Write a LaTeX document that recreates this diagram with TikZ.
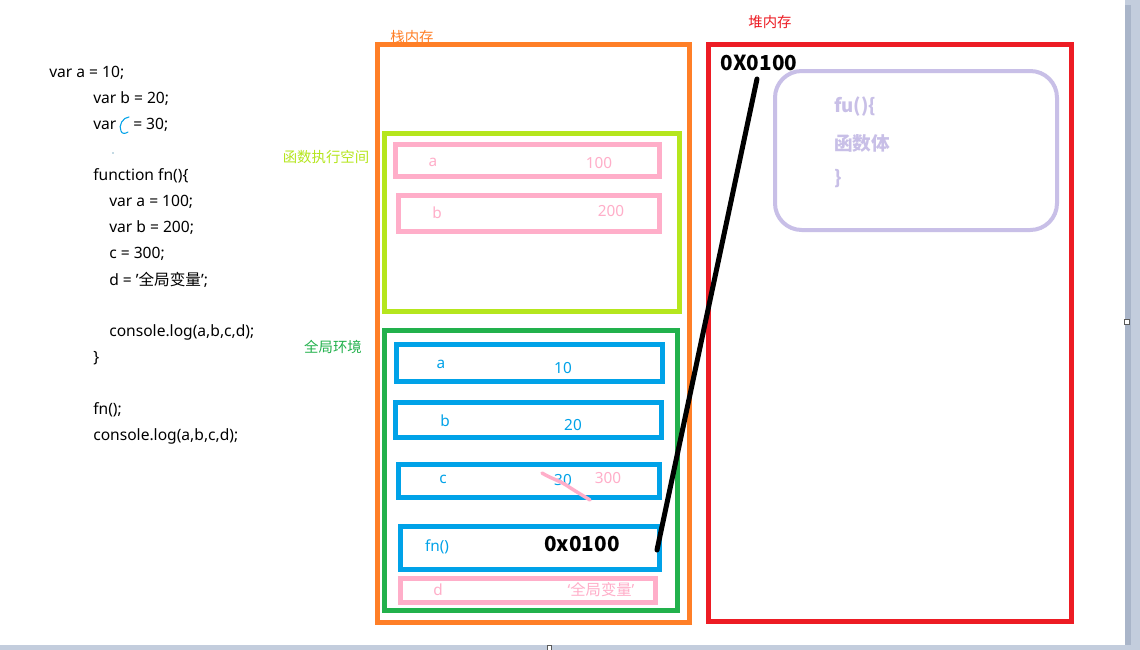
\documentclass[tikz,border=0pt]{standalone}
\usepackage{fontspec}
\setmainfont[Ligatures=NoCommon]{Noto Sans}
\newfontfamily\cjk{Noto Sans CJK SC}
\usetikzlibrary{fit}
\definecolor{cOrange}{HTML}{FF7F27}
\definecolor{cLime}{HTML}{B5E61D}
\definecolor{cPink}{HTML}{FFAEC9}
\definecolor{cGreen}{HTML}{22B14C}
\definecolor{cBlue}{HTML}{00A2E8}
\definecolor{cRed}{HTML}{ED1C24}
\definecolor{cLav}{HTML}{C8BFE7}
\definecolor{cBar}{HTML}{C3CDDD}
\definecolor{cBarD}{HTML}{A9B5C9}
\newcommand{\sq}{\char"0027\relax}
\tikzset{
  frame/.style={draw, line width=3.75pt, inner sep=0pt, fill=none},
  code/.style={anchor=west, inner sep=0pt, font=\fontsize{11.7}{13}\selectfont, text=black},
  lbl/.style={inner sep=0pt, font=\fontsize{11.5}{13}\selectfont},
  captxt/.style={inner sep=0pt, font=\fontsize{10.8}{12}\selectfont\cjk},
  big/.style={inner sep=0pt, font=\fontsize{15.5}{18}\selectfont\cjk\bfseries, text=black},
  lav/.style={inner sep=0pt, font=\fontsize{14}{17}\selectfont\cjk\bfseries, text=cLav, anchor=west},
}
\begin{document}
\begin{tikzpicture}[x=0.75pt,y=-0.75pt]
\useasboundingbox (0,0) rectangle (1140,650);
\fill[white] (0,0) rectangle (1140,650);
% window chrome
\fill[cBar] (1125,0) rectangle (1140,650);
\fill[cBarD] (1125,5) rectangle (1131,650);
\fill[cBar] (0,645) rectangle (1140,650);
\draw[gray!70!black, fill=white, line width=0.4pt] (1124,319) rectangle (1129,324);
\draw[gray!70!black, fill=white, line width=0.4pt] (547,645) rectangle (551,650);

% code
\node[code] (l1) at (49,73) {var a = 10;};
\node[code] (l2) at (93,99) {var b = 20;};
\node[code] (l3a) at (93,125) {var};
\node[code] (l3b) at (133,125) {= 30;};
\draw[cBlue, line width=0.8pt, line cap=round] (129,117) .. controls (123,117) and (118,126) .. (121,131) .. controls (122,134) and (125,134) .. (128,132);
\fill[cBlue!60!black] (113,153) circle (0.6);
\node[code] (l4) at (93,176) {function fn()\{};
\node[code] (l5) at (109,202) {var a = 100;};
\node[code] (l6) at (109,228) {var b = 200;};
\node[code] (l7) at (109,254) {c = 300;};
\node[code] (l8) at (109,280) {d = \sq{\cjk 全局变量}\sq;};
\node[code] (l9) at (109,332) {console.log(a,b,c,d);};
\node[code] (l10) at (93,358) {\}};
\node[code] (l11) at (93,410) {fn();};
\node[code] (l12) at (93,436) {console.log(a,b,c,d);};

% stack memory
\node[captxt, text=cOrange] (stkl) at (412,37) {栈内存};
\node[frame, draw=cOrange, fit={(377,44)(689,622)}] (stack) {};

% function execution space
\node[captxt, text=cLime] (fexl) at (326,157) {函数执行空间};
\node[frame, draw=cLime, fit={(384,133)(679,311)}] (fex) {};
\node[frame, draw=cPink, fit={(395,144)(659,176)}] (pa) {};
\node[lbl, text=cPink] (pan) at (433,162) {a};
\node[lbl, text=cPink] (pav) at (599,163) {100};
\node[frame, draw=cPink, fit={(398,195)(659,231)}] (pb) {};
\node[lbl, text=cPink] (pbn) at (437,213) {b};
\node[lbl, text=cPink] (pbv) at (611,211) {200};

% global environment
\node[captxt, text=cGreen] (gll) at (333,347) {全局环境};
\node[frame, draw=cGreen, fit={(384,330)(677,610)}] (glob) {};
\node[frame, draw=cBlue, fit={(396,344)(662,381)}] (ga) {};
\node[lbl, text=cBlue] (gan) at (441,364) {a};
\node[lbl, text=cBlue] (gav) at (563,368) {10};
\node[frame, draw=cBlue, fit={(395,402)(661,437)}] (gb) {};
\node[lbl, text=cBlue] (gbn) at (445,421) {b};
\node[lbl, text=cBlue] (gbv) at (573,425) {20};
\node[frame, draw=cBlue, fit={(398,464)(659,497)}] (gc) {};
\node[lbl, text=cBlue] (gcn) at (443,479) {c};
\node[lbl, text=cBlue] (gcv) at (563,480) {30};
\node[lbl, text=cPink] (gcv2) at (608,478) {300};
\draw[cPink, line width=2.6pt, line cap=round] (542,473) .. controls (550,478) and (560,481) .. (566,485) .. controls (575,491) and (582,495) .. (590,500);
\node[frame, draw=cBlue, fit={(400,526)(659,569)}] (gf) {};
\node[lbl, text=cBlue] (gfn) at (437,547) {fn()};
\node[big] (gfv) at (582,544) {0x0100};
\node[frame, draw=cPink, fit={(400,578)(655,602)}] (gd) {};
\node[lbl, text=cPink] (gdn) at (438,590) {d};
\node[lbl, text=cPink] (gdv) at (601,590) {‘{\cjk 全局变量}’};

% heap memory
\node[captxt, text=cRed] (hpl) at (770,22) {堆内存};
\node[frame, draw=cRed, fit={(708,44)(1071,621)}] (heap) {};
\node[big] (haddr) at (759,63) {0X0100};
\draw[cLav, line width=3pt, rounded corners=20pt] (775,71) rectangle (1057,230);
\node[lav] (fb1) at (834,107) {fu()\{};
\node[lav] (fb2) at (834,143) {函数体};
\node[lav] (fb3) at (834,179) {\}};

% pointer
\coordinate (pstart) at (757,79);
\coordinate (pend) at (657,550);
\draw[black, line width=3.75pt, line cap=round] (pstart) -- (pend);
\end{tikzpicture}
\end{document}
